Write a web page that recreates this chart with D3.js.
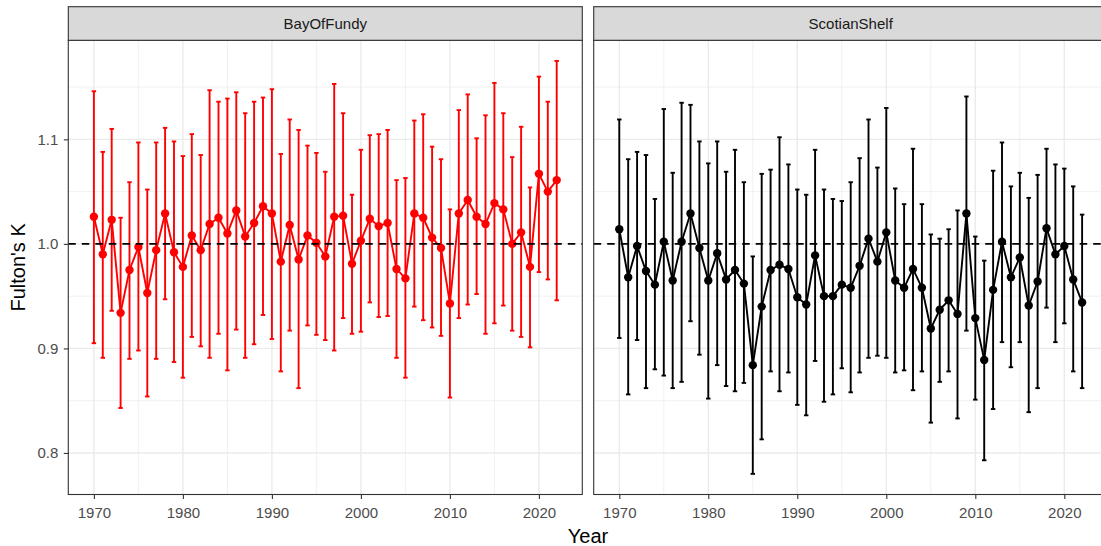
<!DOCTYPE html>
<html>
<head>
<meta charset="utf-8">
<script src="https://cdn.jsdelivr.net/npm/d3@7"></script>
<style>
  body { margin: 0; background: #ffffff; }
  svg { display: block; }
  text { font-family: "Liberation Sans", Arial, Helvetica, sans-serif; }
</style>
</head>
<body>
<svg id="chart" width="1101" height="546"></svg>
<script>
// ---- data: Fulton's condition factor K, annual mean with interval bounds ----
const years = [
  1970, 1971, 1972, 1973, 1974, 1975, 1976, 1977, 1978, 1979,
  1980, 1981, 1982, 1983, 1984, 1985, 1986, 1987, 1988, 1989,
  1990, 1991, 1992, 1993, 1994, 1995, 1996, 1997, 1998, 1999,
  2000, 2001, 2002, 2003, 2004, 2005, 2006, 2007, 2008, 2009,
  2010, 2011, 2012, 2013, 2014, 2015, 2016, 2017, 2018, 2019,
  2020, 2021, 2022
];

const bofMean = [
  1.026, 0.990, 1.023, 0.934, 0.975, 0.997, 0.953, 0.994, 1.029, 0.992,
  0.978, 1.008, 0.994, 1.019, 1.025, 1.010, 1.032, 1.007, 1.020, 1.036,
  1.029, 0.983, 1.018, 0.985, 1.008, 1.001, 0.988, 1.026, 1.027, 0.981,
  1.003, 1.024, 1.017, 1.020, 0.976, 0.967, 1.029, 1.025, 1.006, 0.996,
  0.943, 1.029, 1.042, 1.026, 1.019, 1.039, 1.033, 1.000, 1.011, 0.978,
  1.067, 1.050, 1.061
];
const bofUpper = [
  1.146, 1.088, 1.110, 1.025, 1.059, 1.097, 1.052, 1.097, 1.111, 1.098,
  1.084, 1.105, 1.085, 1.147, 1.136, 1.139, 1.145, 1.125, 1.136, 1.140,
  1.148, 1.086, 1.119, 1.109, 1.094, 1.087, 1.069, 1.153, 1.125, 1.047,
  1.090, 1.104, 1.105, 1.109, 1.061, 1.063, 1.118, 1.124, 1.093, 1.081,
  1.033, 1.128, 1.143, 1.101, 1.123, 1.154, 1.125, 1.083, 1.112, 1.054,
  1.160, 1.136, 1.175
];
const bofLower = [
  0.905, 0.891, 0.936, 0.843, 0.890, 0.898, 0.854, 0.890, 0.947, 0.887,
  0.872, 0.911, 0.902, 0.891, 0.914, 0.879, 0.918, 0.891, 0.904, 0.932,
  0.909, 0.878, 0.917, 0.862, 0.922, 0.913, 0.908, 0.898, 0.929, 0.914,
  0.916, 0.944, 0.930, 0.931, 0.891, 0.872, 0.940, 0.927, 0.920, 0.912,
  0.853, 0.929, 0.942, 0.952, 0.914, 0.924, 0.941, 0.917, 0.911, 0.901,
  0.973, 0.966, 0.946
];

const ssMean = [
  1.014, 0.968, 0.998, 0.974, 0.961, 1.002, 0.965, 1.002, 1.029, 0.996,
  0.965, 0.991, 0.966, 0.975, 0.962, 0.884, 0.940, 0.975, 0.980, 0.976,
  0.949, 0.942, 0.989, 0.950, 0.950, 0.961, 0.958, 0.979, 1.005, 0.983,
  1.011, 0.965, 0.958, 0.976, 0.958, 0.919, 0.937, 0.946, 0.933, 1.029,
  0.929, 0.889, 0.956, 1.002, 0.968, 0.987, 0.941, 0.964, 1.015, 0.990,
  0.998, 0.966, 0.944
];
const ssUpper = [
  1.119, 1.081, 1.088, 1.085, 1.043, 1.129, 1.068, 1.135, 1.133, 1.098,
  1.077, 1.098, 1.069, 1.090, 1.059, 0.988, 1.067, 1.071, 1.102, 1.076,
  1.052, 1.047, 1.090, 1.052, 1.043, 1.041, 1.059, 1.082, 1.119, 1.073,
  1.130, 1.053, 1.038, 1.091, 1.038, 1.009, 1.005, 1.014, 1.032, 1.141,
  1.007, 0.984, 1.070, 1.097, 1.055, 1.068, 1.044, 1.066, 1.091, 1.076,
  1.072, 1.055, 1.028
];
const ssLower = [
  0.910, 0.856, 0.908, 0.862, 0.880, 0.874, 0.862, 0.868, 0.926, 0.894,
  0.852, 0.884, 0.864, 0.859, 0.867, 0.780, 0.813, 0.878, 0.859, 0.877,
  0.846, 0.836, 0.888, 0.849, 0.856, 0.881, 0.858, 0.877, 0.891, 0.893,
  0.891, 0.877, 0.879, 0.860, 0.878, 0.829, 0.868, 0.878, 0.833, 0.917,
  0.851, 0.793, 0.842, 0.906, 0.882, 0.906, 0.839, 0.862, 0.939, 0.906,
  0.924, 0.878, 0.862
];

const panelNames = ["BayOfFundy", "ScotianShelf"];
const panelColors = ["#ff0000", "#000000"];
const referenceK = 1.0;

const xTicks = [1970, 1980, 1990, 2000, 2010, 2020];
const xMinor = [1975, 1985, 1995, 2005, 2015];
const yTicks = [0.8, 0.9, 1.0, 1.1];
const yMinor = [0.85, 0.95, 1.05, 1.15];

// ---- layout ----
const svg = d3.select("#chart");
const stripTop = 6.7, panelTop = 40.3, panelBottom = 494.5;
const panelW = 514;
const panelX = [68.3, 593.7];
const capHalf = 0.25;   // half width of error-bar caps, in years

const series = [
  { name: panelNames[0], color: panelColors[0], mean: bofMean, lo: bofLower, hi: bofUpper },
  { name: panelNames[1], color: panelColors[1], mean: ssMean, lo: ssLower, hi: ssUpper }
].map(s => ({
  ...s,
  rows: years.map((yr, i) => ({ year: yr, mean: s.mean[i], lo: s.lo[i], hi: s.hi[i] }))
}));

// shared scales with 5% padding around the data (caps included)
const xLo = d3.min(years) - capHalf, xHi = d3.max(years) + capHalf;
const xPad = (xHi - xLo) * 0.05;
const allLo = d3.min(series, s => d3.min(s.lo));
const allHi = d3.max(series, s => d3.max(s.hi));
const yPad = (allHi - allLo) * 0.05;
const y = d3.scaleLinear().domain([allLo - yPad, allHi + yPad]).range([panelBottom, panelTop]);

const grid = "#ebebeb", dark = "#333333";

series.forEach((s, p) => {
  const x0 = panelX[p];
  const x = d3.scaleLinear().domain([xLo - xPad, xHi + xPad]).range([x0, x0 + panelW]);
  const g = svg.append("g");

  // panel background + grid
  g.append("rect").attr("x", x0).attr("y", panelTop).attr("width", panelW)
    .attr("height", panelBottom - panelTop).attr("fill", "#ffffff");
  g.selectAll(".ymin").data(yMinor.filter(v => y(v) > panelTop && y(v) < panelBottom)).join("line")
    .attr("x1", x0).attr("x2", x0 + panelW).attr("y1", d => y(d)).attr("y2", d => y(d))
    .attr("stroke", grid).attr("stroke-width", 0.7);
  g.selectAll(".xmin").data(xMinor).join("line")
    .attr("x1", d => x(d)).attr("x2", d => x(d)).attr("y1", panelTop).attr("y2", panelBottom)
    .attr("stroke", grid).attr("stroke-width", 0.7);
  g.selectAll(".ymaj").data(yTicks).join("line")
    .attr("x1", x0).attr("x2", x0 + panelW).attr("y1", d => y(d)).attr("y2", d => y(d))
    .attr("stroke", grid).attr("stroke-width", 1.4);
  g.selectAll(".xmaj").data(xTicks).join("line")
    .attr("x1", d => x(d)).attr("x2", d => x(d)).attr("y1", panelTop).attr("y2", panelBottom)
    .attr("stroke", grid).attr("stroke-width", 1.4);

  // error bars
  const eb = g.append("g").attr("stroke", s.color).attr("stroke-width", 1.9).attr("fill", "none");
  eb.selectAll(".v").data(s.rows).join("line")
    .attr("x1", d => x(d.year)).attr("x2", d => x(d.year))
    .attr("y1", d => y(d.lo)).attr("y2", d => y(d.hi));
  eb.selectAll(".t").data(s.rows).join("line")
    .attr("x1", d => x(d.year - capHalf)).attr("x2", d => x(d.year + capHalf))
    .attr("y1", d => y(d.hi)).attr("y2", d => y(d.hi));
  eb.selectAll(".b").data(s.rows).join("line")
    .attr("x1", d => x(d.year - capHalf)).attr("x2", d => x(d.year + capHalf))
    .attr("y1", d => y(d.lo)).attr("y2", d => y(d.lo));

  // connecting line and points
  g.append("path").datum(s.rows)
    .attr("d", d3.line().x(d => x(d.year)).y(d => y(d.mean)))
    .attr("fill", "none").attr("stroke", s.color).attr("stroke-width", 1.9)
    .attr("stroke-linejoin", "round");
  g.selectAll(".pt").data(s.rows).join("circle")
    .attr("cx", d => x(d.year)).attr("cy", d => y(d.mean)).attr("r", 4.2)
    .attr("fill", s.color);

  // reference line at K = 1
  g.append("line").attr("x1", x0).attr("x2", x0 + panelW)
    .attr("y1", y(referenceK)).attr("y2", y(referenceK))
    .attr("stroke", "#000000").attr("stroke-width", 1.9).attr("stroke-dasharray", "7.5,6");

  // panel border
  g.append("rect").attr("x", x0).attr("y", panelTop).attr("width", panelW)
    .attr("height", panelBottom - panelTop).attr("fill", "none")
    .attr("stroke", dark).attr("stroke-width", 1.1);

  // strip
  g.append("rect").attr("x", x0).attr("y", stripTop).attr("width", panelW)
    .attr("height", panelTop - stripTop).attr("fill", "#d9d9d9")
    .attr("stroke", dark).attr("stroke-width", 1.1);
  g.append("text").attr("x", x0 + panelW / 2).attr("y", (stripTop + panelTop) / 2)
    .attr("text-anchor", "middle").attr("dominant-baseline", "central")
    .attr("font-size", 15).attr("fill", "#1a1a1a").text(s.name);

  // x axis
  const xa = g.append("g").attr("transform", `translate(0,${panelBottom})`)
    .call(d3.axisBottom(x).tickValues(xTicks).tickFormat(d3.format("d"))
      .tickSize(4.5).tickSizeOuter(0).tickPadding(8.5));
  xa.select(".domain").remove();
  xa.selectAll(".tick line").attr("stroke", dark).attr("stroke-width", 1.1);
  xa.selectAll(".tick text").attr("fill", "#4d4d4d").attr("font-size", 15)
    .style("font-family", "'Liberation Sans', Arial, sans-serif");

  // y axis on the first panel only
  if (p === 0) {
    const ya = g.append("g").attr("transform", `translate(${x0},0)`)
      .call(d3.axisLeft(y).tickValues(yTicks).tickFormat(d3.format(".1f"))
        .tickSize(4.5).tickSizeOuter(0).tickPadding(5.5));
    ya.select(".domain").remove();
    ya.selectAll(".tick line").attr("stroke", dark).attr("stroke-width", 1.1);
    ya.selectAll(".tick text").attr("fill", "#4d4d4d").attr("font-size", 15)
      .style("font-family", "'Liberation Sans', Arial, sans-serif");
  }
});

// axis titles
svg.append("text").attr("x", (panelX[0] + panelX[1] + panelW) / 2).attr("y", 542.5)
  .attr("text-anchor", "middle").attr("font-size", 20).attr("fill", "#000000").text("Year");
svg.append("text")
  .attr("transform", `translate(25,${(panelTop + panelBottom) / 2}) rotate(-90)`)
  .attr("text-anchor", "middle").attr("font-size", 20).attr("fill", "#000000").text("Fulton's K");
</script>
</body>
</html>
